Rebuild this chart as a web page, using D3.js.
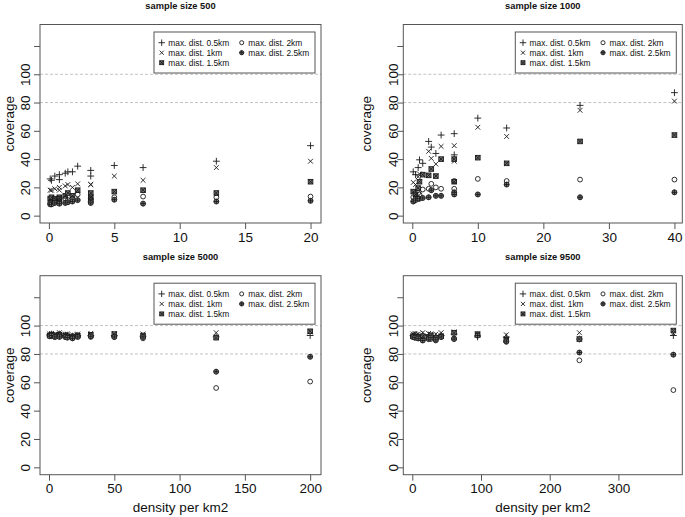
<!DOCTYPE html>
<html>
<head>
<meta charset="utf-8">
<script src="https://cdn.jsdelivr.net/npm/d3@7"></script>
<style>
  html, body { margin: 0; padding: 0; background: #fff; }
  svg { display: block; font-family: "Liberation Sans", Arial, Helvetica, sans-serif; }
</style>
</head>
<body>
<svg id="chart" width="685" height="517"></svg>
<script>
// ---------------- data ----------------
const seriesLabels = ["max. dist. 0.5km", "max. dist. 1km", "max. dist. 1.5km", "max. dist. 2km", "max. dist. 2.5km"];
const yTicks = [0, 20, 40, 60, 80, 100, 120];
const yTickLabels = ["0", "20", "40", "60", "80", "100", ""];
const refLines = [80, 100];

// sample size 500
const s500_density = [0.1, 0.2, 0.45, 0.8, 0.8, 1.25, 1.45, 1.8, 2.2, 3.2, 3.2, 5, 7.2, 12.8, 20];
const s500_d05 = [26, 25, 28, 29, 25.5, 30, 31, 31, 35, 32, 28, 35.5, 34, 38.5, 49.5];
const s500_d1  = [18, 18, 19, 20, 18, 21, 22, 20, 22.5, 22, 22, 28, 25, 34, 38.5];
const s500_d15 = [12, 13, 12, 13, 12, 14, 16, 14, 18, 16, 13, 17, 18, 16, 24];
const s500_d2  = [9, 10, 11, 11, 10, 12, 11, 12, 15, 12, 11, 13, 13.5, 13, 13.5];
const s500_d25 = [8, 8, 9, 9, 8.5, 9, 9.5, 10, 11, 10, 9, 11.3, 8.5, 10, 10.5];
const s500_xTicks = [0, 5, 10, 15, 20];

// sample size 1000
const s1000_density = [0.15, 0.5, 0.9, 1.1, 1.6, 2.5, 2.9, 3.6, 4.4, 6.4, 6.4, 10, 14.4, 25.6, 40];
const s1000_d05 = [31, 29, 34, 39.5, 37, 52.5, 48.5, 44, 57, 58, 43, 69, 62, 78, 87];
const s1000_d1  = [23.5, 22, 27.5, 29.5, 28.5, 45.5, 40.5, 36.5, 49, 49.5, 38.5, 62.5, 56, 74.5, 81];
const s1000_d15 = [17, 15, 19.5, 24, 29, 28.5, 33, 28, 40, 40, 24, 41, 37, 52.5, 57];
const s1000_d2  = [13, 12, 16, 15, 18.5, 19, 22.5, 20, 19, 24.5, 19, 26, 24.5, 25.5, 25.5];
const s1000_d25 = [10, 11, 12, 12, 12.5, 13, 18, 14, 14, 16.5, 15, 15, 22, 13, 16.5];
const s1000_xTicks = [0, 10, 20, 30, 40];

// sample size 5000
const s5000_density = [0.5, 2, 4.5, 8, 12.5, 14, 18, 22, 32, 50, 72, 128, 200];
const s5000_d05 = [93.5, 94, 93, 94, 93, 93, 92.5, 93, 93, 93, 92.5, 92, 93];
const s5000_d1  = [94, 94.5, 94, 95, 94, 94, 93.5, 94, 94.5, 94.5, 94, 95, 95.5];
const s5000_d15 = [93, 93.5, 93, 93.5, 93, 92.5, 92, 93, 93.5, 94, 93, 91.5, 96];
const s5000_d2  = [93, 92.5, 92, 93, 92, 92, 91.5, 92.5, 92, 92, 91, 56, 60.5];
const s5000_d25 = [92.5, 93, 92, 92, 92, 91.5, 91, 92, 92.5, 92, 92, 67.5, 78];
const s5000_xTicks = [0, 50, 100, 150, 200];

// sample size 9500
const s9500_density = [1, 3.8, 8.5, 15.2, 23.7, 27, 34.2, 42, 60.8, 95, 136.8, 243.2, 380];
const s9500_d05 = [93, 93.5, 93, 93.5, 93, 93, 92.5, 93, 94, 92, 92, 90.5, 93];
const s9500_d1  = [94, 94.5, 94, 95, 94.5, 94, 94, 95, 95.5, 93.5, 93.5, 95, 94.5];
const s9500_d15 = [92.5, 92.5, 92, 92.5, 92, 93, 91.5, 92.5, 95, 94, 90, 90.5, 96.5];
const s9500_d2  = [92, 91.5, 91, 90, 91, 90.5, 89.5, 92, 91, 93, 88.5, 75.5, 54.5];
const s9500_d25 = [92, 91.5, 91, 89.5, 90.5, 91.5, 90, 92, 90.5, 93, 89, 81, 79.5];
const s9500_xTicks = [0, 100, 200, 300];

// ---------------- layout ----------------
const panels = [
  { title: "sample size 500", x0: 40, x1: 321, y0: 24.5, y1: 223, xdom: [-0.68, 20.8], xTicks: s500_xTicks,
    yLabX: 25, covX: 12, xTitle: false,
    dens: s500_density, series: [s500_d05, s500_d1, s500_d15, s500_d2, s500_d25] },
  { title: "sample size 1000", x0: 403.3, x1: 682.3, y0: 24.5, y1: 223, xdom: [-1.37, 41.2], xTicks: s1000_xTicks,
    yLabX: 393, covX: 369, xTitle: false,
    dens: s1000_density, series: [s1000_d05, s1000_d1, s1000_d15, s1000_d2, s1000_d25] },
  { title: "sample size 5000", x0: 40, x1: 321, y0: 275.7, y1: 474.7, xdom: [-6.9, 208.3], xTicks: s5000_xTicks,
    yLabX: 25, covX: 12, xTitle: true,
    dens: s5000_density, series: [s5000_d05, s5000_d1, s5000_d15, s5000_d2, s5000_d25] },
  { title: "sample size 9500", x0: 403.3, x1: 682.3, y0: 275.7, y1: 474.7, xdom: [-13.1, 393], xTicks: s9500_xTicks,
    yLabX: 393, covX: 369, xTitle: true,
    dens: s9500_density, series: [s9500_d05, s9500_d1, s9500_d15, s9500_d2, s9500_d25] }
];

const ink = "#1a1a1a";
const boxCol = "#555";

// marker drawing functions (scale k)
function drawMarker(g, type, x, y, k) {
  const s = g.append("g").attr("transform", `translate(${x},${y}) scale(${k})`)
    .attr("fill", "none").attr("stroke", ink).attr("stroke-width", 0.9 / k);
  if (type === 0) {
    s.append("path").attr("d", "M-3.4,0H3.4M0,-3.4V3.4");
  } else if (type === 1) {
    s.append("path").attr("d", "M-2.4,-2.4L2.4,2.4M-2.4,2.4L2.4,-2.4");
  } else if (type === 2) {
    s.append("rect").attr("x", -2.3).attr("y", -2.3).attr("width", 4.6).attr("height", 4.6).attr("fill", "#777");
    s.append("path").attr("d", "M-2.3,-2.3L2.3,2.3M-2.3,2.3L2.3,-2.3");
  } else if (type === 3) {
    s.append("circle").attr("r", 2.4);
  } else {
    s.append("circle").attr("r", 2.5).attr("fill", "#777");
    s.append("path").attr("d", "M-2.5,0H2.5M0,-2.5V2.5");
  }
}

const svg = d3.select("#chart");

panels.forEach(p => {
  const x = d3.scaleLinear().domain(p.xdom).range([p.x0, p.x1]);
  const y = d3.scaleLinear().domain([-5.2, 135.2]).range([p.y1, p.y0]);
  const g = svg.append("g");

  // reference lines
  g.selectAll("line.ref").data(refLines).enter().append("line")
    .attr("x1", p.x0).attr("x2", p.x1)
    .attr("y1", d => y(d)).attr("y2", d => y(d))
    .attr("stroke", "#bbb").attr("stroke-width", 0.9).attr("stroke-dasharray", "3,2");

  // x axis
  const xAxis = d3.axisBottom(x).tickValues(p.xTicks).tickSize(6).tickPadding(3).tickFormat(d3.format("d"));
  const gx = g.append("g").attr("transform", `translate(0,${p.y1})`).call(xAxis);
  gx.select(".domain").remove();
  gx.selectAll(".tick line").attr("stroke", boxCol);
  gx.selectAll(".tick text").attr("fill", "#111").attr("font-size", 13.5)
    .attr("font-family", "Liberation Sans, Arial, sans-serif");

  // y axis
  const yAxis = d3.axisLeft(y).tickValues(yTicks).tickSize(6).tickFormat((d, i) => yTickLabels[i]);
  const gy = g.append("g").attr("transform", `translate(${p.x0},0)`).call(yAxis);
  gy.select(".domain").remove();
  gy.selectAll(".tick line").attr("stroke", boxCol);
  gy.selectAll(".tick text")
    .attr("fill", "#111").attr("font-size", 13.5)
    .attr("font-family", "Liberation Sans, Arial, sans-serif")
    .attr("text-anchor", "middle").attr("dy", null).attr("x", null)
    .attr("transform", `translate(${p.yLabX + 4.8 - p.x0},0) rotate(-90)`);

  // box
  g.append("rect").attr("x", p.x0).attr("y", p.y0)
    .attr("width", p.x1 - p.x0).attr("height", p.y1 - p.y0)
    .attr("fill", "none").attr("stroke", boxCol).attr("stroke-width", 1);

  // title
  g.append("text").attr("x", (p.x0 + p.x1) / 2).attr("y", p.y0 - 15.5)
    .attr("text-anchor", "middle").attr("font-weight", "bold").attr("font-size", 9.3)
    .attr("fill", "#111").text(p.title);

  // y title
  g.append("text")
    .attr("transform", `translate(${p.covX + 2},${(p.y0 + p.y1) / 2}) rotate(-90)`)
    .attr("text-anchor", "middle").attr("font-size", 13.5).attr("fill", "#111").text("coverage");

  if (p.xTitle) {
    g.append("text").attr("x", (p.x0 + p.x1) / 2).attr("y", p.y1 + 37)
      .attr("text-anchor", "middle").attr("font-size", 13.5).attr("fill", "#111").text("density per km2");
  }

  // points
  const pts = g.append("g");
  p.series.forEach((vals, si) => {
    vals.forEach((v, i) => drawMarker(pts, si, x(p.dens[i]), y(v), 1));
  });

  // legend
  const lw = 161, lh = 41;
  const lx = p.x1 - 6 - lw, ly = p.y0 + 7.5;
  const lg = g.append("g");
  lg.append("rect").attr("x", lx).attr("y", ly).attr("width", lw).attr("height", lh)
    .attr("fill", "#fff").attr("stroke", boxCol).attr("stroke-width", 1);
  const pos = [[0, 0], [0, 1], [0, 2], [1, 0], [1, 1]];
  seriesLabels.forEach((lab, i) => {
    const [c, r] = pos[i];
    const sx = lx + 7.7 + c * 80;
    const sy = ly + 10.7 + r * 10;
    drawMarker(lg, i, sx, sy, i === 0 ? 0.95 : 0.85);
    lg.append("text").attr("x", sx + 6.6).attr("y", sy + 3.1)
      .attr("font-size", 8.4).attr("fill", "#111").text(lab);
  });
});
</script>
</body>
</html>
